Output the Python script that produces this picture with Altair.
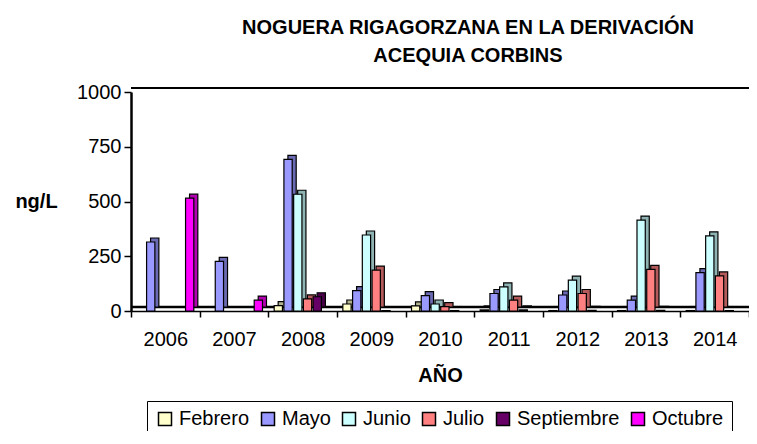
import altair as alt
import pandas as pd

years = ["2006", "2007", "2008", "2009", "2010", "2011", "2012", "2013", "2014"]
months = ["Febrero", "Mayo", "Junio", "Julio", "Septiembre", "Octubre"]
febrero = [None, None, 25, 32, 23, 5, 2, 2, 2]
mayo = [315, 227, 692, 93, 70, 80, 73, 50, 175]
junio = [None, None, 533, 347, 32, 110, 141, 415, 343]
julio = [None, None, 55, 187, 20, 50, 80, 190, 160]
septiembre = [None, None, 65, 2, 2, 5, 3, 3, 2]
octubre = [515, 50, None, None, None, None, None, None, None]

front_colors = ["#FFFFCC", "#9999FF", "#CCFFFF", "#FF8080", "#660066", "#FF00FF"]
side_colors = ["#B3B38F", "#6B6BB3", "#8FB3B3", "#B35A5A", "#470047", "#B300B3"]

series = [febrero, mayo, junio, julio, septiembre, octubre]
rows = []
for m, vals, sc in zip(months, series, side_colors):
    for y, v in zip(years, vals):
        if v is not None:
            rows.append({"year": y, "month": m, "value": v, "side": sc})
df = pd.DataFrame(rows)

FONT = "Liberation Sans"
W, H = 618, 219
BW = W / len(years)
D = 4  # depth of the 3D effect in pixels

x_enc = alt.X("year:N", sort=years, scale=alt.Scale(domain=years, paddingInner=0, paddingOuter=0),
              axis=alt.Axis(title="AÑO", titleFontSize=20, titleFontWeight="bold", titleFont=FONT,
                            labelFont=FONT, labelFontSize=20, labelColor="black", labelAngle=0,
                            labelPadding=12, titlePadding=16, tickBand="extent", tickColor="black",
                            tickSize=6, tickWidth=1.5, domainColor="black", domainWidth=1.5,
                            titleColor="black"))
y_scale = alt.Scale(domain=[0, 1000], nice=False)
y_axis = alt.Axis(values=[0, 250, 500, 750, 1000], format="d", grid=False, title="ng/L", titleAngle=0,
                  titleFont=FONT, titleFontSize=20, titleFontWeight="bold", titleColor="black",
                  titleX=-95, titleY=109, titleAlign="center", titleBaseline="middle",
                  labelFont=FONT, labelFontSize=20, labelColor="black", labelPadding=3,
                  tickColor="black", tickSize=7, tickWidth=1.5, domainColor="black", domainWidth=2.5)

side = alt.Chart(df).mark_bar(yOffset=-D, y2Offset=-D, stroke="black", strokeWidth=1.2).encode(
    x=x_enc,
    xOffset=alt.XOffset("month:N", sort=months,
                        scale=alt.Scale(domain=months, paddingInner=0.15, paddingOuter=0.6,
                                        range=[D, BW + D])),
    y=alt.Y("value:Q", scale=y_scale, axis=y_axis),
    color=alt.Color("side:N", scale=None),
)
front = alt.Chart(df).mark_bar(stroke="black", strokeWidth=1.2).encode(
    x=x_enc,
    xOffset=alt.XOffset("month:N", sort=months,
                        scale=alt.Scale(domain=months, paddingInner=0.15, paddingOuter=0.6,
                                        range=[0, BW])),
    y=alt.Y("value:Q", scale=y_scale, axis=y_axis),
    color=alt.Color("month:N", sort=months,
                    scale=alt.Scale(domain=months, range=front_colors),
                    legend=alt.Legend(title=None, orient="none", direction="horizontal",
                                      legendX=16, legendY=309, labelFont=FONT, labelFontSize=20,
                                      labelColor="black", symbolType="square", symbolSize=169,
                                      symbolStrokeColor="black", symbolStrokeWidth=1.5,
                                      symbolOpacity=1, columnPadding=8, labelOffset=4,
                                      strokeColor="black", padding=8)),
)

floor = alt.Chart(pd.DataFrame({"v": [0]})).mark_rule(color="black", strokeWidth=2.5, yOffset=-D).encode(
    y=alt.Y("v:Q", scale=y_scale))
top = alt.Chart(pd.DataFrame({"v": [1000]})).mark_rule(color="black", strokeWidth=2, yOffset=-D).encode(
    y=alt.Y("v:Q", scale=y_scale))

chart = alt.layer(floor, top, side, front).resolve_scale(xOffset="independent").properties(
    width=W, height=H,
    autosize=alt.AutoSizeParams(type="none"),
    padding={"left": 123, "top": 84, "right": 0, "bottom": 120},
    title=alt.TitleParams(["NOGUERA RIGAGORZANA EN LA DERIVACIÓN", "ACEQUIA CORBINS"],
                          font=FONT, fontSize=20, fontWeight="bold", color="black",
                          anchor="middle", dx=28, lineHeight=28, offset=16),
).configure_view(stroke=None)

chart.save("out.html", embed_options={"renderer": "svg", "actions": False})
